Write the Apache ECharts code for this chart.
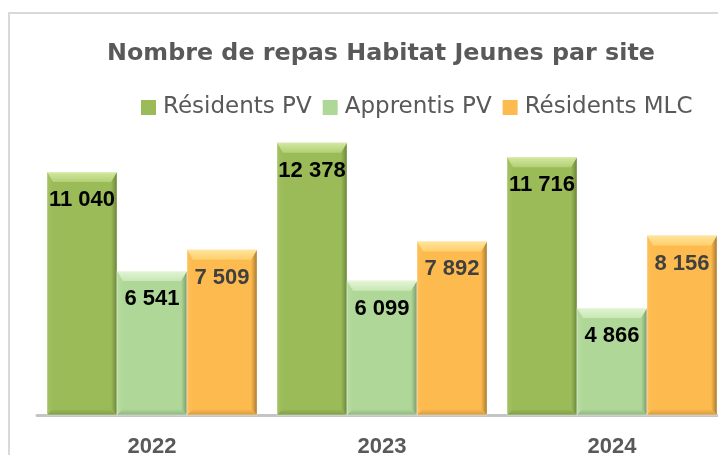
<!DOCTYPE html>
<html>
<head>
<meta charset="utf-8">
<style>
  html, body { margin: 0; padding: 0; background: #fff; }
  #chart { width: 718px; height: 455px; }
</style>
<script src="https://cdn.jsdelivr.net/npm/echarts@6/dist/echarts.min.js"></script>
</head>
<body>
<div id="chart"></div>
<script>
// données
const years = ['2022', '2023', '2024']
const residentsPV = [11040, 12378, 11716]
const apprentisPV = [6541, 6099, 4866]
const residentsMLC = [7509, 7892, 8156]

const WIDE = '"DejaVu Sans", Verdana, sans-serif'
const FONT = '"Liberation Sans", Arial, sans-serif'
const GAP = 20 / 230

// couleurs façon Excel, avec biseau
const palettes = [
  { base: '#9BBB59', hi: '#D2E8A0', top: '#B2D075', left: '#A3C262', right: '#6A8538', bottom: '#7E9C47', label: '#000' },
  { base: '#AFD898', hi: '#E2F4D4', top: '#C8E8B4', left: '#B7DDA2', right: '#7C9A6C', bottom: '#90B57E', label: '#000' },
  { base: '#FDBA4E', hi: '#FFE49A', top: '#FFCF6C', left: '#FEC05A', right: '#A87A30', bottom: '#D49C3F', label: '#404040' }
]

const fmt = v => String(v).replace(/\B(?=(\d{3})+(?!\d))/g, ' ')

const vGrad = (a, b) => ({ type: 'linear', x: 0, y: 0, x2: 0, y2: 1, colorStops: [{ offset: 0, color: a }, { offset: 1, color: b }] })
const hGrad = (a, b) => ({ type: 'linear', x: 0, y: 0, x2: 1, y2: 0, colorStops: [{ offset: 0, color: a }, { offset: 1, color: b }] })

const makeRender = (idx) => (params, api) => {
  const pal = palettes[idx]
  const cat = api.value(0)
  const val = api.value(1)
  const base = api.coord([cat, 0])
  const top = api.coord([cat, val])
  const cw = api.size([1, 0])[0]
  const bw = cw * (1 - GAP) / 3
  const x0 = base[0] - 1.5 * bw + idx * bw
  const x1 = x0 + bw
  const y0 = top[1]
  const y1 = base[1]
  const bt = 10, bs = 6
  const poly = (pts, fill) => ({ type: 'polygon', shape: { points: pts }, style: { fill } })
  return {
    type: 'group',
    children: [
      { type: 'rect', shape: { x: x0, y: y0, width: bw, height: y1 - y0 }, style: { fill: pal.base } },
      poly([[x0, y0], [x0 + bs, y0 + bt], [x0 + bs, y1 - bs], [x0, y1]], hGrad(pal.left, pal.base)),
      poly([[x1, y0], [x1, y1], [x1 - bs, y1 - bs], [x1 - bs, y0 + bt]], hGrad(pal.base, pal.right)),
      poly([[x0, y1], [x1, y1], [x1 - bs, y1 - bs], [x0 + bs, y1 - bs]], vGrad(pal.base, pal.bottom)),
      poly([[x0, y0], [x1, y0], [x1 - bs, y0 + bt], [x0 + bs, y0 + bt]], vGrad(pal.hi, pal.top)),
      {
        type: 'rect', shape: { x: x0, y: y0, width: bw, height: y1 - y0 },
        style: { fill: 'none', stroke: 'rgba(255,255,255,0.4)', lineWidth: 1 }
      },
      {
        type: 'text',
        style: {
          text: fmt(val), x: (x0 + x1) / 2, y: y0 + 28,
          align: 'center', verticalAlign: 'middle',
          font: 'bold 22px ' + FONT, fill: pal.label
        }
      }
    ]
  }
}

const names = ['Résidents PV', 'Apprentis PV', 'Résidents MLC']
const values = [residentsPV, apprentisPV, residentsMLC]

const option = {
  backgroundColor: '#fff',
  animation: false,
  title: {
    text: 'Nombre de repas Habitat Jeunes par site',
    left: 376,
    textAlign: 'center',
    top: 37,
    textStyle: { fontFamily: WIDE, fontSize: 23.8, fontWeight: 'bold', color: '#595959' }
  },
  legend: {
    left: 136,
    top: 91,
    icon: 'rect',
    itemWidth: 15,
    itemHeight: 15,
    itemGap: 11,
    textStyle: { fontFamily: WIDE, fontSize: 23, color: '#595959', padding: [0, 0, 0, 2] },
    data: names
  },
  graphic: [
    {
      type: 'rect', silent: true, z: -10,
      shape: { x: 9, y: 13, width: 800, height: 500 },
      style: { fill: 'none', stroke: '#D9D9D9', lineWidth: 2 }
    }
  ],
  grid: { left: 37, top: 107, width: 690, height: 308, outerBoundsMode: 'none', containLabel: false },
  xAxis: {
    type: 'category',
    data: years,
    axisTick: { show: false },
    axisLine: { lineStyle: { color: '#C4C4C4', width: 3 } },
    axisLabel: { margin: 21, fontFamily: FONT, fontSize: 22, fontWeight: 'bold', color: '#595959' }
  },
  yAxis: {
    type: 'value', min: 0, max: 14000, show: false, splitLine: { show: false }
  },
  series: names.map((name, i) => ({
    name,
    type: 'custom',
    itemStyle: { color: palettes[i].base },
    renderItem: makeRender(i),
    encode: { x: 0, y: 1 },
    data: years.map((y, k) => [k, values[i][k]])
  }))
}

const chart = echarts.init(document.getElementById('chart'))
chart.setOption(option)
</script>
</body>
</html>
